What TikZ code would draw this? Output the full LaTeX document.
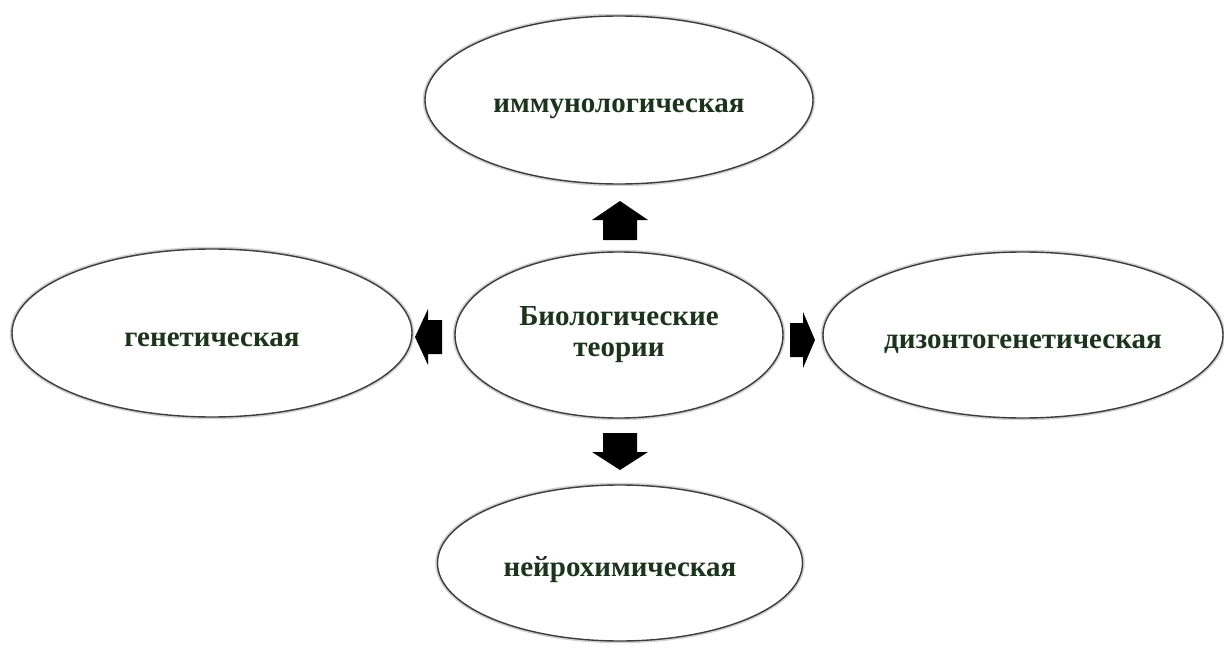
\documentclass[tikz,border=0pt]{standalone}
\usepackage{fontspec}
\setmainfont{Liberation Serif}
\usetikzlibrary{shapes.geometric, positioning}

\definecolor{leafgreen}{RGB}{28,52,28}
\definecolor{rimgray}{RGB}{60,60,60}

\tikzset{
    theory/.style={ellipse, draw=rimgray, line width=1.4pt, fill=white,
        inner sep=0pt, align=center, text=leafgreen,
        font=\fontsize{29}{31}\selectfont\bfseries,
        preaction={draw=black!18, line width=4.5pt}},
    oneline/.style={text height=26pt, text depth=0pt},
    blockarrow/.style={fill=black}
}

\begin{document}
\begin{tikzpicture}[x=1pt, y=-1pt]
        \useasboundingbox (0,0) rectangle (1224,650);

        \node[theory, minimum width=328pt, minimum height=166pt] (bio) at (619,335) {Биологические\\теории};
        \node[theory, oneline, minimum width=388pt, minimum height=168pt] (immuno) at (619,100) {иммунологическая};
        \node[theory, oneline, minimum width=400pt, minimum height=168pt] (genet) at (212,333) {генетическая};
        \node[theory, oneline, minimum width=400pt, minimum height=166pt] (dizont) at (1023,335) {дизонтогенетическая};
        \node[theory, oneline, minimum width=365pt, minimum height=156pt] (neuro) at (620,563) {нейрохимическая};

        % block arrows: base point / angle / length / head length
        \foreach \px/\py/\ang/\len/\hl in
        {620/240/90/39/19,
            620/433/270/37/18,
            442/337/180/27/13,
            790/340/0/25/12
        }
        {
            \fill[blockarrow, shift={(\px,\py)}, rotate=\ang]
                (0,-17) -- ({\len-\hl},-17) -- ({\len-\hl},-28) -- (\len,0)
                -- ({\len-\hl},28) -- ({\len-\hl},17) -- (0,17) -- cycle;
        };
    \end{tikzpicture}
\end{document}
